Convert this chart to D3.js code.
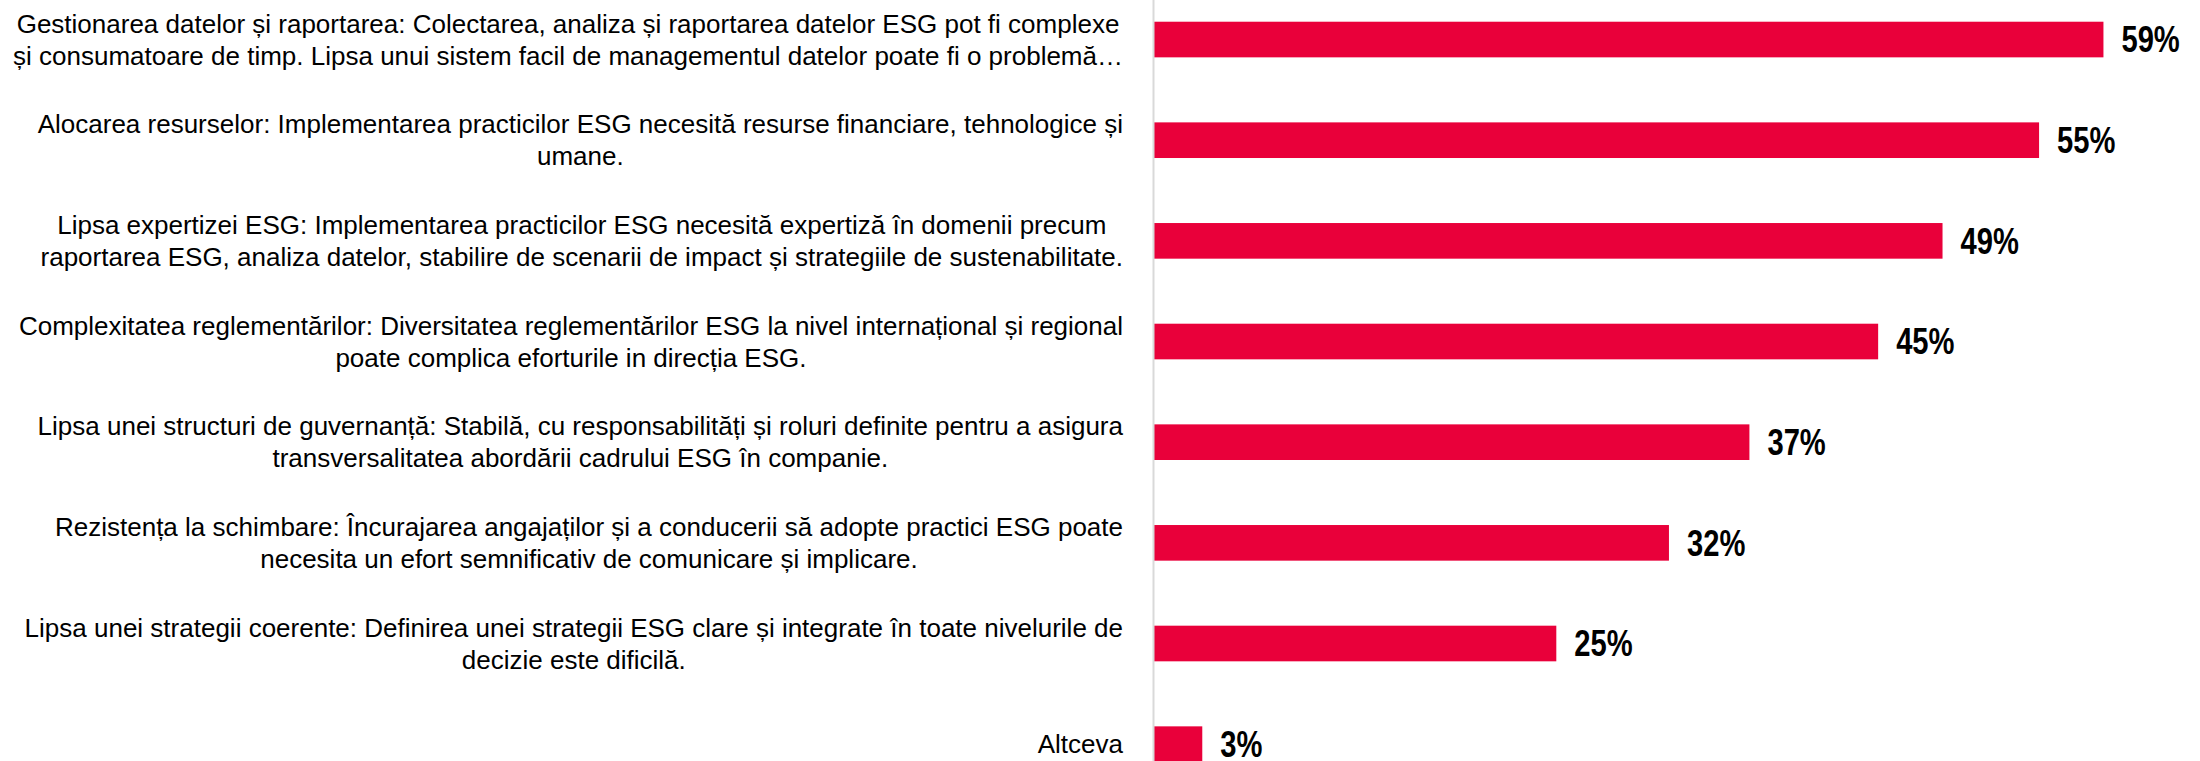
<!DOCTYPE html>
<html>
<head>
<meta charset="utf-8">
<script src="https://cdn.jsdelivr.net/npm/d3@7"></script>
<style>
  html, body { margin: 0; padding: 0; background: #fff; }
  svg { display: block; }
</style>
</head>
<body>
<div id="chart"></div>
<script>
const width = 2200;
const height = 761;

// category labels, already broken into the lines shown on the chart
const labelLines = [
    ["Gestionarea datelor și raportarea: Colectarea, analiza și raportarea datelor ESG pot fi complexe",
     "și consumatoare de timp. Lipsa unui sistem facil de managementul datelor poate fi o problemă…"],
    ["Alocarea resurselor: Implementarea practicilor ESG necesită resurse financiare, tehnologice și",
     "umane."],
    ["Lipsa expertizei ESG: Implementarea practicilor ESG necesită expertiză în domenii precum",
     "raportarea ESG, analiza datelor, stabilire de scenarii de impact și strategiile de sustenabilitate."],
    ["Complexitatea reglementărilor: Diversitatea reglementărilor ESG la nivel internațional și regional",
     "poate complica eforturile in direcția ESG."],
    ["Lipsa unei structuri de guvernanță: Stabilă, cu responsabilități și roluri definite pentru a asigura",
     "transversalitatea abordării cadrului ESG în companie."],
    ["Rezistența la schimbare: Încurajarea angajaților și a conducerii să adopte practici ESG poate",
     "necesita un efort semnificativ de comunicare și implicare."],
    ["Lipsa unei strategii coerente: Definirea unei strategii ESG clare și integrate în toate nivelurile de",
     "decizie este dificilă."],
    ["Altceva"]
];

// share of respondents, %
const values = [59, 55, 49, 45, 37, 32, 25, 3];

const barColor = "#e9003a";
const axisX = 1153;
const labelRight = 1123;
const lineHeight = 32;

const data = values.map((v, i) => ({ i, value: v, lines: labelLines[i] }));

const x = d3.scaleLinear()
    .domain([0, 65])
    .range([axisX + 1, width]);

const y = d3.scaleBand()
    .domain(data.map(d => d.i))
    .range([-10.8, 794.5])
    .paddingInner(0.646)
    .paddingOuter(0.323);

const svg = d3.select("#chart")
    .append("svg")
    .attr("width", width)
    .attr("height", height);

// bars
svg.append("g")
    .selectAll("rect")
    .data(data)
    .join("rect")
    .attr("x", x(0))
    .attr("y", d => y(d.i))
    .attr("width", d => x(d.value) - x(0))
    .attr("height", y.bandwidth())
    .attr("fill", barColor);

// category axis: just the grey line
const yAxis = svg.append("g")
    .attr("transform", `translate(${axisX},0)`)
    .call(d3.axisLeft(y).tickSize(0).tickFormat(""));
yAxis.select(".domain")
    .attr("stroke", "#d9d9d9")
    .attr("stroke-width", 2);

// value labels (narrow bold face, squeezed since no Arial Narrow is around)
svg.append("g")
    .selectAll("text")
    .data(data)
    .join("text")
    .attr("x", d => x(d.value) + 18)
    .attr("y", d => y(d.i) + y.bandwidth() / 2)
    .attr("dy", "0.36em")
    .style("font-family", "'Liberation Sans Narrow', 'Arial Narrow', 'Liberation Sans', Arial, sans-serif")
    .style("font-weight", "bold")
    .style("font-size", "36px")
    .style("fill", "#000")
    .text(d => d.value + "%")
    .each(function () {
        const w = this.getComputedTextLength();
        d3.select(this)
            .attr("textLength", w * 0.81)
            .attr("lengthAdjust", "spacingAndGlyphs");
    });

// category labels: lines centred on each other, block right-aligned to the axis
const labels = svg.append("g")
    .selectAll("g")
    .data(data)
    .join("g");

labels.each(function (d) {
    const g = d3.select(this);
    const cy = y(d.i) + y.bandwidth() / 2;
    const n = d.lines.length;
    const texts = d.lines.map((line, k) => g.append("text")
        .attr("y", cy + (k - (n - 1) / 2) * lineHeight)
        .attr("dy", "0.35em")
        .attr("text-anchor", "middle")
        .style("font-family", "'Liberation Sans', Arial, sans-serif")
        .style("font-size", "26px")
        .style("fill", "#000")
        .text(line));
    const maxW = d3.max(texts, t => t.node().getComputedTextLength());
    texts.forEach(t => t.attr("x", labelRight - maxW / 2));
});
</script>
</body>
</html>
